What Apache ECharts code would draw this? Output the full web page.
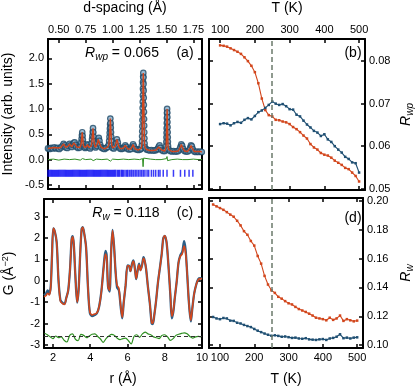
<!DOCTYPE html>
<html><head><meta charset="utf-8">
<script src="https://cdn.jsdelivr.net/npm/echarts@6/dist/echarts.min.js"></script>
<style>html,body{margin:0;padding:0;background:#fff}#c{width:416px;height:387px}</style>
</head><body><div id="c"></div>
<script>
// ---------- Panel (a): diffraction pattern vs d-spacing ----------
const obsA = [
[0.400,0.22],[0.415,0.21],[0.430,0.23],[0.445,0.22],[0.460,0.24],[0.475,0.22],[0.490,0.23],[0.505,0.21],[0.520,0.24],[0.535,0.27],
[0.545,0.31],[0.555,0.28],[0.565,0.24],[0.580,0.23],[0.590,0.27],[0.600,0.31],[0.610,0.28],[0.620,0.25],[0.630,0.29],[0.640,0.33],
[0.648,0.34],[0.656,0.29],[0.665,0.25],[0.680,0.23],[0.695,0.24],[0.705,0.28],[0.709,0.34],[0.712,0.41],[0.715,0.48],[0.718,0.54],
[0.721,0.47],[0.724,0.39],[0.727,0.31],[0.735,0.25],[0.745,0.23],[0.755,0.25],[0.765,0.30],[0.772,0.28],[0.780,0.24],[0.792,0.22],
[0.800,0.26],[0.806,0.33],[0.809,0.40],[0.812,0.47],[0.815,0.55],[0.818,0.62],[0.821,0.54],[0.824,0.45],[0.827,0.36],[0.832,0.28],
[0.842,0.24],[0.852,0.27],[0.860,0.33],[0.866,0.40],[0.872,0.43],[0.878,0.37],[0.885,0.29],[0.895,0.24],[0.910,0.22],[0.925,0.21],
[0.940,0.23],[0.955,0.25],[0.965,0.30],[0.968,0.37],[0.971,0.45],[0.973,0.53],[0.975,0.61],[0.977,0.70],[0.979,0.81],[0.981,0.72],
[0.983,0.63],[0.985,0.54],[0.987,0.45],[0.989,0.36],[0.992,0.28],[1.000,0.23],[1.012,0.22],[1.024,0.26],[1.032,0.33],[1.040,0.40],
[1.048,0.34],[1.056,0.26],[1.068,0.22],[1.082,0.21],[1.096,0.22],[1.108,0.24],[1.118,0.28],[1.126,0.25],[1.140,0.21],[1.155,0.20],
[1.170,0.21],[1.182,0.26],[1.190,0.30],[1.198,0.26],[1.210,0.21],[1.225,0.20],[1.240,0.19],[1.255,0.20],[1.265,0.22],[1.271,0.28],
[1.2730,0.36],[1.2740,0.46],[1.2750,0.56],[1.2760,0.66],[1.2770,0.78],[1.2780,0.90],[1.2790,1.02],[1.2800,1.14],[1.2810,1.27],[1.2820,1.40],
[1.2830,1.53],[1.2840,1.64],[1.2850,1.71],[1.2860,1.62],[1.2870,1.49],[1.2880,1.36],[1.2890,1.22],[1.2900,1.08],[1.2910,0.94],[1.2920,0.80],
[1.2930,0.67],[1.2940,0.54],[1.2950,0.42],[1.2965,0.32],[1.300,0.24],[1.315,0.20],[1.330,0.19],[1.345,0.18],[1.360,0.19],[1.375,0.18],
[1.390,0.18],[1.405,0.19],[1.418,0.21],[1.428,0.25],[1.436,0.28],[1.444,0.23],[1.455,0.19],[1.470,0.17],[1.485,0.17],[1.495,0.20],
[1.4975,0.27],[1.4990,0.35],[1.5000,0.44],[1.5010,0.53],[1.5020,0.62],[1.5030,0.72],[1.5040,0.82],[1.5050,0.92],[1.5060,1.00],[1.5070,0.93],
[1.5080,0.84],[1.5090,0.74],[1.5100,0.64],[1.5110,0.54],[1.5120,0.44],[1.5130,0.35],[1.5145,0.27],[1.520,0.20],[1.535,0.17],[1.550,0.16],
[1.565,0.17],[1.580,0.16],[1.595,0.16],[1.610,0.17],[1.622,0.20],[1.630,0.25],[1.638,0.30],[1.646,0.27],[1.655,0.21],[1.668,0.17],
[1.682,0.16],[1.696,0.16],[1.710,0.18],[1.720,0.23],[1.728,0.28],[1.736,0.26],[1.745,0.20],[1.758,0.16],[1.772,0.15],[1.786,0.16],
[1.800,0.15],[1.815,0.16],[1.828,0.15]
];
const calcA = obsA; // calculated profile overlaps the observed points at this scale
const diffA = [
[0.40,0.00],[0.45,0.01],[0.50,-0.01],[0.55,0.01],[0.60,0.00],[0.65,0.01],[0.70,-0.01],[0.72,0.02],[0.75,0.00],[0.80,0.01],
[0.82,-0.02],[0.85,0.01],[0.90,0.00],[0.95,0.01],[0.98,-0.03],[1.00,0.01],[1.05,0.00],[1.10,0.01],[1.15,0.00],[1.20,0.01],
[1.25,0.00],[1.278,0.02],[1.283,-0.14],[1.288,0.03],[1.30,0.00],[1.35,0.01],[1.40,0.00],[1.45,0.00],[1.50,0.02],[1.505,0.06],
[1.51,-0.02],[1.55,0.00],[1.60,0.01],[1.65,0.00],[1.70,0.00],[1.75,0.01],[1.80,0.00],[1.83,0.00]
];
const braggD = [
0.40,0.41,0.42,0.43,0.44,0.45,0.46,0.47,0.48,0.49,0.50,0.51,0.52,0.53,0.54,0.55,0.56,0.57,0.58,0.59,
0.60,0.61,0.62,0.63,0.64,0.65,0.66,0.67,0.68,0.69,0.70,0.71,0.72,0.73,0.74,0.75,0.76,0.77,0.78,0.79,
0.80,0.81,0.82,0.83,0.84,0.85,0.86,0.87,0.88,0.89,0.90,0.91,0.92,0.93,0.94,0.95,0.96,0.97,0.98,0.99,
1.00,1.01,1.02,1.03,1.045,1.055,1.065,1.08,1.09,1.10,1.115,1.13,1.14,1.155,1.17,1.18,1.195,1.21,1.225,1.24,
1.255,1.27,1.285,1.30,1.32,1.335,1.36,1.38,1.40,1.425,1.44,1.47,1.505,1.565,1.63,1.67,1.71,1.745
];
const braggY = -0.27;
const ticksA_x = [0.50,0.75,1.00,1.25,1.50,1.75];
const ticksA_y = [-0.5,0,0.5,1.0,1.5,2.0];

// ---------- Panel (b): Rwp vs T ----------
const tempB = [100,110,120,130,140,150,160,170,180,190,200,210,220,230,240,250,260,270,280,290,300,
               310,320,330,340,350,360,370,380,390,400,410,420,430,440,450,460,470,480,490,500];
const rwpRed = [0.0837,0.0836,0.0834,0.0830,0.0826,0.0822,0.0817,0.0809,0.0800,0.0789,0.0774,
                0.0748,0.0712,0.0685,0.0673,0.0670,0.0662,0.0661,0.0658,0.0656,0.0652,
                0.0645,0.0640,0.0633,0.0625,0.0618,0.0605,0.0597,0.0592,0.0584,0.0580,
                0.0578,0.0573,0.0566,0.0561,0.0556,0.0549,0.0546,0.0538,0.0530,0.0517];
const rwpBlue = [0.0652,0.0654,0.0653,0.0649,0.0654,0.0657,0.0655,0.0662,0.0666,0.0663,0.0671,
                 0.0680,0.0684,0.0690,0.0697,0.0705,0.0700,0.0697,0.0699,0.0694,0.0687,
                 0.0686,0.0674,0.0670,0.0660,0.0651,0.0644,0.0636,0.0632,0.0624,0.0628,
                 0.0616,0.0610,0.0600,0.0592,0.0585,0.0575,0.0570,0.0562,0.0560,0.0538];
const ticksT = [100,200,300,400,500];
const ticksB_y = [0.05,0.06,0.07,0.08];
const transitionT = 250;

// ---------- Panel (c): G(r) ----------
const rC = [1.52,1.62,1.72,1.80,1.88,1.95,2.02,2.10,2.20,2.30,
            2.40,2.50,2.62,2.72,2.82,2.92,3.00,3.06,3.12,3.20,
            3.30,3.38,3.46,3.54,3.60,3.68,3.78,3.88,3.98,4.10,
            4.24,4.36,4.48,4.60,4.72,4.82,4.88,4.96,5.04,5.12,
            5.20,5.28,5.36,5.44,5.54,5.64,5.72,5.80,5.90,6.00,
            6.08,6.16,6.24,6.32,6.40,6.47,6.54,6.62,6.70,6.78,
            6.86,6.92,7.00,7.10,7.20,7.30,7.36,7.44,7.54,7.64,
            7.74,7.84,7.92,8.00,8.10,8.20,8.30,8.38,8.46,8.54,
            8.64,8.74,8.84,8.94,9.04,9.12,9.20,9.30,9.40,9.48,
            9.58,9.70,9.80,9.90,10.0];
const calcG = [-0.75,-0.70,-0.58,-0.66,-0.30,1.20,2.45,2.30,1.80,0.00,
               -0.95,-1.05,-1.10,-0.80,-0.45,0.60,1.90,2.05,1.70,0.30,
               -1.00,-0.40,1.20,2.40,2.50,2.20,1.55,-0.30,-1.45,-1.60,
               -1.55,-1.50,-1.20,-0.50,0.60,1.25,1.10,-0.30,-0.45,1.30,
               2.35,1.60,0.45,-0.20,-0.35,-1.20,-1.70,-1.00,-0.20,0.70,
               0.70,0.45,0.75,0.92,0.55,0.10,0.45,0.75,0.48,0.70,
               1.05,0.95,0.55,-0.30,-1.05,-1.95,-1.98,-1.60,-0.90,-0.05,
               0.60,1.25,1.95,2.10,1.80,0.70,-0.60,-1.65,-1.40,-0.80,
               -0.05,0.85,1.15,1.25,1.62,1.30,0.40,-1.05,-1.85,-1.30,
               -0.60,-0.15,0.05,0.10,0.08];
const obsG = [-0.68,-0.60,-0.45,-0.62,-0.28,1.20,2.45,2.30,1.80,0.00,
              -0.90,-1.02,-1.08,-0.78,-0.45,0.58,1.90,2.08,1.70,0.30,
              -1.02,-0.40,1.20,2.42,2.50,2.20,1.55,-0.30,-1.50,-1.65,
              -1.60,-1.52,-1.20,-0.50,0.65,1.40,1.22,-0.30,-0.50,1.32,
              2.38,1.62,0.45,-0.30,-0.45,-1.25,-1.75,-1.00,-0.22,0.72,
              0.70,0.45,0.78,0.95,0.55,0.08,0.45,0.80,0.50,0.72,
              1.10,0.95,0.55,-0.30,-1.05,-2.00,-2.02,-1.60,-0.90,-0.05,
              0.60,1.28,1.98,2.10,1.78,0.70,-0.65,-1.75,-1.45,-0.80,
              -0.05,0.85,1.20,1.35,1.85,1.45,0.40,-1.05,-1.90,-1.30,
              -0.60,-0.15,0.08,0.12,0.10];
const diffC = [
[1.55,-2.45],[1.70,-2.52],[1.85,-2.62],[2.00,-2.70],[2.15,-2.58],[2.30,-2.66],[2.45,-2.62],[2.60,-2.78],[2.75,-2.86],[2.90,-2.55],
[3.05,-2.48],[3.20,-2.72],[3.35,-2.80],[3.50,-2.50],[3.65,-2.55],[3.80,-2.66],[3.95,-2.58],[4.10,-2.50],[4.25,-2.48],[4.40,-2.60],
[4.55,-2.72],[4.70,-2.88],[4.85,-2.70],[5.00,-2.58],[5.15,-2.50],[5.30,-2.55],[5.45,-2.68],[5.60,-2.75],[5.75,-2.70],[5.90,-2.68],
[6.05,-2.80],[6.20,-2.95],[6.35,-2.60],[6.50,-2.52],[6.65,-2.64],[6.80,-2.48],[6.95,-2.40],[7.10,-2.48],[7.25,-2.52],[7.40,-2.62],
[7.55,-2.66],[7.70,-2.70],[7.85,-2.55],[8.00,-2.52],[8.15,-2.62],[8.30,-2.78],[8.45,-2.70],[8.60,-2.55],[8.75,-2.50],[8.90,-2.46],
[9.05,-2.43],[9.20,-2.48],[9.35,-2.60],[9.50,-2.68],[9.65,-2.62],[9.80,-2.60],[9.95,-2.62]
];
const diffOffset = -2.6;
const ticksC_x = [2,4,6,8,10];
const ticksC_y = [-3,-2,-1,0,1,2,3];

// ---------- Panel (d): Rw vs T ----------
const tempD = [80,90,100,110,120,130,140,150,160,170,180,190,200,210,220,230,240,250,260,270,280,290,300,
               310,320,330,340,350,360,370,380,390,400,410,420,430,440,450,460,470,480,490,500];
const rwRed = [0.1975,0.1962,0.1950,0.1938,0.1922,0.1905,0.1890,0.1862,0.1830,0.1790,0.1765,0.1722,0.1690,
               0.1618,0.1565,0.1480,0.1420,0.1380,0.1362,0.1335,0.1322,0.1305,0.1290,
               0.1282,0.1265,0.1250,0.1240,0.1230,0.1218,0.1205,0.1190,0.1185,0.1180,
               0.1172,0.1190,0.1175,0.1185,0.1205,0.1168,0.1180,0.1172,0.1165,0.1170];
const rwBlue = [0.1195,0.1185,0.1180,0.1188,0.1185,0.1170,0.1168,0.1155,0.1150,0.1140,0.1132,0.1125,0.1112,
                0.1100,0.1090,0.1080,0.1072,0.1065,0.1068,0.1064,0.1058,0.1060,0.1055,
                0.1050,0.1052,0.1046,0.1044,0.1048,0.1040,0.1038,0.1036,0.1040,0.1042,
                0.1036,0.1046,0.1050,0.1058,0.1075,0.1048,0.1052,0.1046,0.1052,0.1054];
const ticksD_y = [0.10,0.12,0.14,0.16,0.18,0.20];

// ---------- styling ----------
const FONT = '"Liberation Sans", Arial, sans-serif';
const RED = '#d2461c', BLUE = '#1f4f72', BLUE_C = '#2c5f87', GREEN = '#2f8f22';
const subRich = {
  i: {fontStyle:'italic', fontSize:14, fontFamily:FONT, color:'#000'},
  sub: {fontStyle:'italic', fontSize:10, fontFamily:FONT, color:'#000', padding:[8,0,0,0]},
  sup: {fontSize:9, fontFamily:FONT, color:'#000', padding:[0,0,8,0]}
};

function mkAxis(o){
  return {
    type:'value', gridIndex:o.g, position:o.pos, min:o.min, max:o.max,
    name:o.name||'', nameLocation:'middle', nameGap:o.gap||0,
    nameTextStyle:{fontFamily:FONT, fontSize:14, color:'#000', rich:subRich},
    axisLine:{show:true, onZero:false, lineStyle:{color:'#000', width:2}},
    axisTick:{show:true, inside:true, length:4, customValues:o.ticks, lineStyle:{color:'#000', width:1.5}},
    axisLabel:{show:!!o.label, customValues:o.ticks, formatter:o.fmt, fontFamily:FONT, fontSize:11, color:'#000', margin:4},
    splitLine:{show:false}
  };
}
const f1 = v => v.toFixed(1), f2 = v => v.toFixed(2), f0 = v => String(Math.round(v));

const A = {min:0.40, max:1.83}, Ay = {min:-0.58, max:2.38};
const Tr = {min:68, max:517};
const By = {min:0.0497, max:0.0852};
const Cx = {min:1.52, max:10}, Cy = {min:-3.14, max:3.82};
const Dy = {min:0.098, max:0.202};

const xAxis = [
  mkAxis({g:0,pos:'bottom',...A,ticks:ticksA_x}),
  mkAxis({g:0,pos:'top',...A,ticks:ticksA_x,label:true,fmt:f2,name:'d-spacing (Å)',gap:24}),
  mkAxis({g:1,pos:'bottom',...Tr,ticks:ticksT}),
  mkAxis({g:1,pos:'top',...Tr,ticks:ticksT,label:true,fmt:f0,name:'T (K)',gap:24}),
  mkAxis({g:2,pos:'bottom',...Cx,ticks:ticksC_x,label:true,fmt:f0,name:'r (Å)',gap:24}),
  mkAxis({g:2,pos:'top',...Cx,ticks:ticksC_x}),
  mkAxis({g:3,pos:'bottom',...Tr,ticks:ticksT,label:true,fmt:f0,name:'T (K)',gap:24}),
  mkAxis({g:3,pos:'top',...Tr,ticks:ticksT})
];
const yAxis = [
  mkAxis({g:0,pos:'left',...Ay,ticks:ticksA_y,label:true,fmt:f1,name:'Intensity (arb. units)',gap:33}),
  mkAxis({g:0,pos:'right',...Ay,ticks:ticksA_y}),
  mkAxis({g:1,pos:'left',...By,ticks:ticksB_y}),
  mkAxis({g:1,pos:'right',...By,ticks:ticksB_y,label:true,fmt:f2,name:'{i|R}{sub|wp}',gap:32}),
  mkAxis({g:2,pos:'left',...Cy,ticks:ticksC_y,label:true,fmt:f0,name:'G (Å{sup|−2})',gap:26}),
  mkAxis({g:2,pos:'right',...Cy,ticks:ticksC_y}),
  mkAxis({g:3,pos:'left',...Dy,ticks:ticksD_y}),
  mkAxis({g:3,pos:'right',...Dy,ticks:ticksD_y,label:true,fmt:f2,name:'{i|R}{sub|w}',gap:34})
];

const vline = {symbol:'none', silent:true, label:{show:false},
  lineStyle:{color:'#6b7a6b', type:[5,3], width:1.5}, data:[{xAxis:transitionT}]};
const tSeries = (xi, yi, temps, vals, color, ml) => ({
  type:'line', xAxisIndex:xi, yAxisIndex:yi, data:temps.map((t,i)=>[t, vals[i]]),
  symbol:'rect', symbolSize:2.5, showSymbol:true, itemStyle:{color}, lineStyle:{color, width:1.1},
  markLine: ml
});

const series = [
  {type:'scatter', xAxisIndex:0, yAxisIndex:0, data:obsA, symbol:'circle', symbolSize:5.5,
   itemStyle:{color:'#86aac6', borderColor:'#1d4866', borderWidth:1.2}, z:2},
  {type:'line', xAxisIndex:0, yAxisIndex:0, data:calcA, showSymbol:false, lineStyle:{color:RED, width:1.4}, z:3},
  {type:'line', xAxisIndex:0, yAxisIndex:0, data:diffA, showSymbol:false, lineStyle:{color:GREEN, width:1}, z:3},
  {type:'scatter', xAxisIndex:0, yAxisIndex:0, data:braggD.map(d=>[d, braggY]), symbol:'rect', symbolSize:[1.5,7],
   itemStyle:{color:'#0a0af5'}, z:2},
  tSeries(2, 3, tempB, rwpRed, RED, vline),
  tSeries(2, 3, tempB, rwpBlue, BLUE),
  {type:'line', xAxisIndex:4, yAxisIndex:4, data:rC.map((r,i)=>[r, obsG[i]]), showSymbol:false, smooth:0.3,
   lineStyle:{color:BLUE_C, width:2.3}, z:2},
  {type:'line', xAxisIndex:4, yAxisIndex:4, data:rC.map((r,i)=>[r, calcG[i]]), showSymbol:false, smooth:0.3,
   lineStyle:{color:RED, width:1.6}, z:3},
  {type:'line', xAxisIndex:4, yAxisIndex:4, data:diffC, showSymbol:false, smooth:0.3,
   lineStyle:{color:GREEN, width:1.2}, z:3,
   markLine:{symbol:'none', silent:true, label:{show:false}, lineStyle:{color:'#333', type:[4,3], width:1}, data:[{yAxis:diffOffset}]}},
  tSeries(6, 7, tempD, rwRed, RED, vline),
  tSeries(6, 7, tempD, rwBlue, BLUE)
];

const txt = (x, y, text) => ({type:'text', x, y, silent:true,
  style:{text, fontFamily:FONT, fontSize:14, fill:'#000', align:'center', verticalAlign:'middle', rich:subRich}});

const chart = echarts.init(document.getElementById('c'), null, {renderer:'canvas'});
chart.setOption({
  animation:false,
  backgroundColor:'#fff',
  grid:[
    {left:44, top:38, width:158, height:151},
    {left:209, top:38, width:159, height:152},
    {left:44, top:199, width:158, height:152},
    {left:209, top:198, width:159, height:153}
  ],
  xAxis, yAxis, series,
  graphic:[
    txt(122, 53, '{i|R}{sub|wp} = 0.065'),
    txt(185, 53, '(a)'),
    txt(353, 53, '(b)'),
    txt(126, 213, '{i|R}{sub|w} = 0.118'),
    txt(185, 213, '(c)'),
    txt(353, 218, '(d)')
  ]
});
</script></body></html>
